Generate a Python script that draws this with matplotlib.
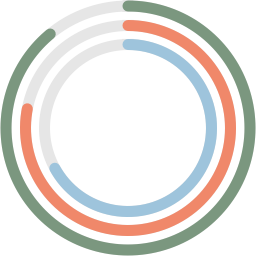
import numpy as np
import matplotlib
matplotlib.use("Agg")
import matplotlib.pyplot as plt

# progress values (percent of full circle), outer -> inner
labels = ["A", "B", "C"]
values = [89, 78, 67]
colors = ["#7b977f", "#f0886a", "#9ec4dc"]
track_color = "#e6e6e6"

radii = [122, 102.5, 83.5]   # ring centre radius in pixel units
ring_px = 11                 # ring thickness in pixels

fig = plt.figure(figsize=(2.56, 2.56), dpi=100)
ax = fig.add_axes([0, 0, 1, 1], projection="polar")
ax.set_theta_zero_location("N")
ax.set_theta_direction(-1)
ax.set_ylim(0, 128)
ax.axis("off")

lw = ring_px * 72 / fig.dpi

for r, v, c in zip(radii, values, colors):
    full = np.linspace(0, 2 * np.pi, 400)
    ax.plot(full, np.full_like(full, r), color=track_color, lw=lw, clip_on=False)
    th = np.linspace(0, 2 * np.pi * v / 100, 300)
    ax.plot(th, np.full_like(th, r), color=c, lw=lw,
            solid_capstyle="round", clip_on=False)

fig.savefig("out.png", dpi=100, facecolor="white")
